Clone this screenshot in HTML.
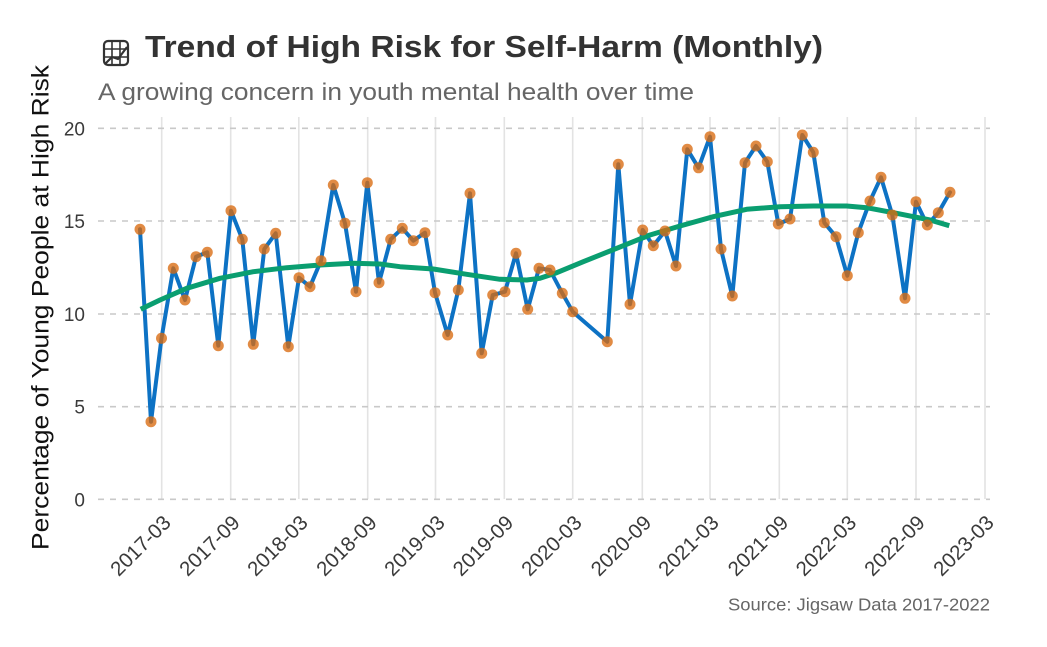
<!DOCTYPE html>
<html>
<head>
<meta charset="utf-8">
<style>
  html, body { margin: 0; padding: 0; background: #ffffff; }
  body { width: 1047px; height: 647px; overflow: hidden; }
  svg { display: block; font-family: "Liberation Sans", "DejaVu Sans", sans-serif; }
</style>
</head>
<body>
<svg width="1047" height="647" viewBox="0 0 1047 647" xmlns="http://www.w3.org/2000/svg">
  <rect x="0" y="0" width="1047" height="647" fill="#ffffff"/>

  <!-- vertical grid lines -->
  <g stroke="#e3e3e3" stroke-width="1.6">
    <line x1="161.7" y1="117" x2="161.7" y2="499"/>
    <line x1="230.7" y1="117" x2="230.7" y2="499"/>
    <line x1="298.8" y1="117" x2="298.8" y2="499"/>
    <line x1="367.7" y1="117" x2="367.7" y2="499"/>
    <line x1="435.5" y1="117" x2="435.5" y2="499"/>
    <line x1="504.3" y1="117" x2="504.3" y2="499"/>
    <line x1="572.7" y1="117" x2="572.7" y2="499"/>
    <line x1="642.3" y1="117" x2="642.3" y2="499"/>
    <line x1="710" y1="117" x2="710" y2="499"/>
    <line x1="779.3" y1="117" x2="779.3" y2="499"/>
    <line x1="847.3" y1="117" x2="847.3" y2="499"/>
    <line x1="916" y1="117" x2="916" y2="499"/>
    <line x1="985" y1="117" x2="985" y2="499"/>
  </g>

  <!-- horizontal dashed grid lines -->
  <g stroke="#c9c9c9" stroke-width="1.6" stroke-dasharray="6,6">
    <line x1="98" y1="128.3" x2="990" y2="128.3"/>
    <line x1="98" y1="221" x2="990" y2="221"/>
    <line x1="98" y1="314" x2="990" y2="314"/>
    <line x1="98" y1="406.7" x2="990" y2="406.7"/>
    <line x1="98" y1="499.3" x2="990" y2="499.3"/>
  </g>

  <!-- y tick labels -->
  <g fill="#3a3a3a" font-size="19" text-anchor="end">
    <text x="85" y="135.3">20</text>
    <text x="85" y="228">15</text>
    <text x="85" y="321">10</text>
    <text x="85" y="413.7">5</text>
    <text x="85" y="506.3">0</text>
  </g>

  <!-- x tick labels -->
  <g fill="#3a3a3a" font-size="20.5" text-anchor="end">
    <text transform="translate(172,524) rotate(-45)">2017-03</text>
    <text transform="translate(241,524) rotate(-45)">2017-09</text>
    <text transform="translate(309,524) rotate(-45)">2018-03</text>
    <text transform="translate(378,524) rotate(-45)">2018-09</text>
    <text transform="translate(446,524) rotate(-45)">2019-03</text>
    <text transform="translate(514.5,524) rotate(-45)">2019-09</text>
    <text transform="translate(583,524) rotate(-45)">2020-03</text>
    <text transform="translate(652.5,524) rotate(-45)">2020-09</text>
    <text transform="translate(720,524) rotate(-45)">2021-03</text>
    <text transform="translate(789.5,524) rotate(-45)">2021-09</text>
    <text transform="translate(857.5,524) rotate(-45)">2022-03</text>
    <text transform="translate(926,524) rotate(-45)">2022-09</text>
    <text transform="translate(995,524) rotate(-45)">2023-03</text>
  </g>

  <!-- y axis title -->
  <text transform="translate(48.5,307.5) rotate(-90)" font-size="24" fill="#111111" text-anchor="middle" textLength="485" lengthAdjust="spacingAndGlyphs">Percentage of Young People at High Risk</text>

  <!-- data line -->
  <polyline fill="none" stroke="#0d72c4" stroke-width="4" stroke-linejoin="round" stroke-linecap="round"
    points="140,229.3 151,421.7 161.5,338.3 173.3,268.3 185,300 196,256.7 207.3,252.3 218.3,345.7 231,210.7 242.3,239.3 253.3,344.3 264.3,249 275.7,233.3 288.3,346.7 299,277.7 310,286.7 321,260.7 333.3,185 345,223.3 356,291.7 367.3,182.7 379,282.7 390.7,239.3 402.3,228.3 413.3,240.7 425,232.7 435,292.7 447.7,335 458.3,290 470,193.3 481.7,353.3 492.7,295 505,291.7 516,253.3 527.7,309.3 539,268.3 550,270 562.3,293.3 572.7,311.7 607.3,341.7 618.3,164.3 630,304.3 642.7,230 653.3,245.7 665,231 676,266 687.3,149.3 698.5,167.8 710,136.7 721,249 732.3,296 745,162.7 756,146 767.3,161.7 778.3,224 790,219 802.3,135 813.3,152.3 824.3,222.7 836,236.7 847.3,275.7 858.3,232.7 870,201 881,177.3 892.3,215 905,298.3 916,201.7 927.3,225 938.3,212.7 950,192.3"/>

  <!-- smooth trend -->
  <path fill="none" stroke="#0a9e70" stroke-width="5" stroke-linecap="butt" stroke-linejoin="round"
    d="M140.7,309.3 L160,300 L186.7,288.3 L220,278.3 L253.3,271.7 L286.7,267.7 L320,265 L353.3,263.3 L380,264 L400,266.7 L433.3,269 L466.7,274.3 L500,279.3 L526.7,280 L540,278.3 L556.7,272.7 L583.3,261.7 L616.7,248.3 L650,235 L680,226 L713.3,216.7 L746.7,209.3 L780,206.7 L813.3,206 L846.7,206 L866.7,207.7 L896.7,213.3 L930,220 L949.3,225.7"/>

  <!-- points -->
  <g fill="#d96a10" fill-opacity="0.78">
    <circle cx="140" cy="229.3" r="5.5"/><circle cx="151" cy="421.7" r="5.5"/><circle cx="161.5" cy="338.3" r="5.5"/><circle cx="173.3" cy="268.3" r="5.5"/><circle cx="185" cy="300" r="5.5"/>
    <circle cx="196" cy="256.7" r="5.5"/><circle cx="207.3" cy="252.3" r="5.5"/><circle cx="218.3" cy="345.7" r="5.5"/><circle cx="231" cy="210.7" r="5.5"/><circle cx="242.3" cy="239.3" r="5.5"/>
    <circle cx="253.3" cy="344.3" r="5.5"/><circle cx="264.3" cy="249" r="5.5"/><circle cx="275.7" cy="233.3" r="5.5"/><circle cx="288.3" cy="346.7" r="5.5"/><circle cx="299" cy="277.7" r="5.5"/>
    <circle cx="310" cy="286.7" r="5.5"/><circle cx="321" cy="260.7" r="5.5"/><circle cx="333.3" cy="185" r="5.5"/><circle cx="345" cy="223.3" r="5.5"/><circle cx="356" cy="291.7" r="5.5"/>
    <circle cx="367.3" cy="182.7" r="5.5"/><circle cx="379" cy="282.7" r="5.5"/><circle cx="390.7" cy="239.3" r="5.5"/><circle cx="402.3" cy="228.3" r="5.5"/><circle cx="413.3" cy="240.7" r="5.5"/>
    <circle cx="425" cy="232.7" r="5.5"/><circle cx="435" cy="292.7" r="5.5"/><circle cx="447.7" cy="335" r="5.5"/><circle cx="458.3" cy="290" r="5.5"/><circle cx="470" cy="193.3" r="5.5"/>
    <circle cx="481.7" cy="353.3" r="5.5"/><circle cx="492.7" cy="295" r="5.5"/><circle cx="505" cy="291.7" r="5.5"/><circle cx="516" cy="253.3" r="5.5"/><circle cx="527.7" cy="309.3" r="5.5"/>
    <circle cx="539" cy="268.3" r="5.5"/><circle cx="550" cy="270" r="5.5"/><circle cx="562.3" cy="293.3" r="5.5"/><circle cx="572.7" cy="311.7" r="5.5"/><circle cx="607.3" cy="341.7" r="5.5"/>
    <circle cx="618.3" cy="164.3" r="5.5"/><circle cx="630" cy="304.3" r="5.5"/><circle cx="642.7" cy="230" r="5.5"/><circle cx="653.3" cy="245.7" r="5.5"/><circle cx="665" cy="231" r="5.5"/>
    <circle cx="676" cy="266" r="5.5"/><circle cx="687.3" cy="149.3" r="5.5"/><circle cx="698.5" cy="167.8" r="5.5"/><circle cx="710" cy="136.7" r="5.5"/><circle cx="721" cy="249" r="5.5"/>
    <circle cx="732.3" cy="296" r="5.5"/><circle cx="745" cy="162.7" r="5.5"/><circle cx="756" cy="146" r="5.5"/><circle cx="767.3" cy="161.7" r="5.5"/><circle cx="778.3" cy="224" r="5.5"/>
    <circle cx="790" cy="219" r="5.5"/><circle cx="802.3" cy="135" r="5.5"/><circle cx="813.3" cy="152.3" r="5.5"/><circle cx="824.3" cy="222.7" r="5.5"/><circle cx="836" cy="236.7" r="5.5"/>
    <circle cx="847.3" cy="275.7" r="5.5"/><circle cx="858.3" cy="232.7" r="5.5"/><circle cx="870" cy="201" r="5.5"/><circle cx="881" cy="177.3" r="5.5"/><circle cx="892.3" cy="215" r="5.5"/>
    <circle cx="905" cy="298.3" r="5.5"/><circle cx="916" cy="201.7" r="5.5"/><circle cx="927.3" cy="225" r="5.5"/><circle cx="938.3" cy="212.7" r="5.5"/><circle cx="950" cy="192.3" r="5.5"/>
  </g>

  <!-- title icon -->
  <g fill="none" stroke="#333333" stroke-width="1.6">
    <rect x="104" y="41" width="24" height="24" rx="4" stroke-width="2.2"/>
    <line x1="112" y1="41" x2="112" y2="65"/>
    <line x1="120" y1="41" x2="120" y2="65"/>
    <line x1="104" y1="49" x2="128" y2="49"/>
    <line x1="104" y1="57" x2="128" y2="57"/>
    <polyline points="105,64 112,57 118,59 127,47" stroke-width="2.2"/>
  </g>

  <!-- title -->
  <text x="145" y="57" font-size="31" font-weight="bold" fill="#333333" textLength="678" lengthAdjust="spacingAndGlyphs">Trend of High Risk for Self-Harm (Monthly)</text>
  <!-- subtitle -->
  <text x="98" y="100" font-size="24.5" fill="#666666" textLength="596" lengthAdjust="spacingAndGlyphs">A growing concern in youth mental health over time</text>
  <!-- caption -->
  <text x="990" y="610.5" font-size="17.5" fill="#666666" text-anchor="end" textLength="262" lengthAdjust="spacingAndGlyphs">Source: Jigsaw Data 2017-2022</text>
</svg>
</body>
</html>
